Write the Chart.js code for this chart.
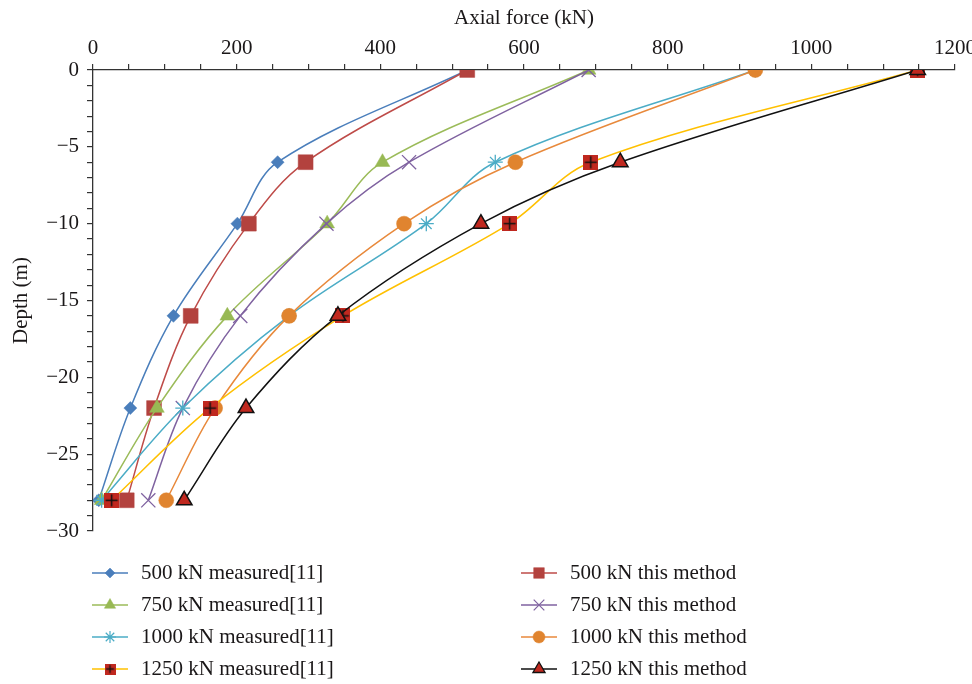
<!DOCTYPE html>
<html>
<head>
<meta charset="utf-8">
<script src="https://cdn.jsdelivr.net/npm/chart.js@4.4.1/dist/chart.umd.min.js"></script>
<style>
html,body{margin:0;padding:0;background:#fff;}
#wrap{width:972px;height:684px;position:relative;}
</style>
</head>
<body>
<div id="wrap"><canvas id="c" width="972" height="684"></canvas></div>
<script>
// ---- data ----
const depths = [0, -6, -10, -16, -22, -28];
const measured500  = [521, 257, 201, 112, 52, 8];
const method500    = [521, 296, 217, 136, 85, 47];
const measured750  = [690, 403, 326, 187, 89, 12];
const method750    = [690, 440, 325, 205, 125, 77];
const measured1000 = [922, 560, 464, 273, 125, 12];
const method1000   = [922, 588, 433, 273, 170, 102];
const measured1250 = [1148, 693, 580, 348, 163, 26];
const method1250   = [1148, 734, 540, 341, 213, 127];
const seriesLabels = [
  '500 kN measured[11]', '500 kN this method',
  '750 kN measured[11]', '750 kN this method',
  '1000 kN measured[11]', '1000 kN this method',
  '1250 kN measured[11]', '1250 kN this method'
];
const seriesValues = [measured500, method500, measured750, method750, measured1000, method1000, measured1250, method1250];

const FONT = "'Liberation Serif', 'DejaVu Serif', serif";
const TXT = '#1A1718';
const FS = 21;

function squarePlus(size){
  const c = document.createElement('canvas');
  c.width = size; c.height = size;
  const g = c.getContext('2d');
  g.fillStyle = '#C0281F';
  g.fillRect(0,0,size,size);
  g.strokeStyle = '#111';
  g.lineWidth = Math.max(1.3, size/10);
  g.beginPath();
  g.moveTo(size/2, 1.5); g.lineTo(size/2, size-1.5);
  g.moveTo(1.5, size/2); g.lineTo(size-1.5, size/2);
  g.stroke();
  return c;
}
const sqPlusBig = squarePlus(15);
const sqPlusSmall = squarePlus(11);

const styles = [
  {line:'#4A7EBB', fill:'#4A7EBB', border:'#4A7EBB', ps:'rectRot', r:6.5, lr:5},
  {line:'#BE4B48', fill:'#B3423E', border:'#B3423E', ps:'rect', r:10.5, lr:7.5},
  {line:'#9BBB59', fill:'#98B954', border:'#98B954', ps:'triangle', r:8.5, lr:6.5},
  {line:'#7F62A0', fill:'rgba(0,0,0,0)', border:'#7F62A0', ps:'crossRot', r:10, lr:7.5},
  {line:'#4BACC6', fill:'rgba(0,0,0,0)', border:'#4BACC6', ps:'star', r:7.5, lr:6},
  {line:'#E8893B', fill:'#E0842F', border:'#E0842F', ps:'circle', r:7.5, lr:6},
  {line:'#FFC000', fill:'#C0281F', border:'#C0281F', ps:sqPlusBig, r:8, lr:6, small:sqPlusSmall},
  {line:'#111111', fill:'#C0281F', border:'#111111', ps:'triangle', r:9, lr:7}
];

const datasets = seriesValues.map((vals, i) => ({
  label: seriesLabels[i],
  data: vals.map((v, k) => ({x: v, y: depths[k]})),
  showLine: true,
  tension: 0.35,
  borderColor: styles[i].line,
  borderWidth: 1.5,
  pointStyle: styles[i].ps,
  pointRadius: styles[i].r,
  pointHoverRadius: styles[i].r,
  pointBackgroundColor: styles[i].fill,
  pointBorderColor: styles[i].border,
  pointBorderWidth: (i===3||i===4) ? 1.3 : (i===7 ? 1.5 : 0.5),
  order: 8 - i
}));

const legendPlugin = {
  id: 'twoColLegend',
  afterDraw(chart){
    const ctx = chart.ctx;
    const cols = [{lx:92, tx:141}, {lx:521, tx:570}];
    const rows = [573, 605, 637, 669];
    ctx.save();
    chart.data.datasets.forEach((ds, i) => {
      const col = cols[i % 2];
      const y = rows[Math.floor(i/2)];
      const st = styles[i];
      ctx.strokeStyle = st.line;
      ctx.lineWidth = 1.5;
      ctx.beginPath();
      ctx.moveTo(col.lx, y); ctx.lineTo(col.lx + 36, y);
      ctx.stroke();
      const cx = col.lx + 18;
      if (typeof st.ps === 'string') {
        ctx.fillStyle = st.fill;
        ctx.strokeStyle = st.border;
        ctx.lineWidth = (i===3||i===4) ? 1.2 : (i===7 ? 1.3 : 0.5);
        Chart.helpers.drawPoint(ctx, {pointStyle: st.ps, radius: st.lr, rotation: 0, borderWidth: ctx.lineWidth}, cx, y);
      } else {
        const im = st.small;
        ctx.drawImage(im, cx - im.width/2, y - im.height/2);
      }
      ctx.fillStyle = TXT;
      ctx.font = FS + 'px ' + FONT;
      ctx.textAlign = 'left';
      ctx.textBaseline = 'middle';
      ctx.fillText(ds.label, col.tx, y);
    });
    ctx.restore();
  }
};

new Chart(document.getElementById('c'), {
  type: 'scatter',
  data: { datasets },
  options: {
    responsive: false,
    animation: false,
    devicePixelRatio: 1,
    layout: { padding: { left: 0, right: 17, top: 0, bottom: 153 } },
    plugins: { legend: { display: false }, tooltip: { enabled: false } },
    scales: {
      x: {
        type: 'linear',
        position: 'top',
        min: 0, max: 1200,
        afterFit(s){ s.height = 70; s.paddingRight = 0; s.paddingLeft = 0; },
        ticks: {
          stepSize: 50, autoSkip: false, maxRotation: 0,
          color: TXT, font: { family: FONT, size: FS }, padding: 3,
          callback: v => (v % 200 === 0) ? String(v) : ''
        },
        grid: { drawOnChartArea: false, drawTicks: true, tickLength: 6, color: '#333', lineWidth: 1.2 },
        border: { display: true, color: '#333', width: 1.3 },
        title: { display: true, text: 'Axial force (kN)', color: TXT, font: { family: FONT, size: FS }, padding: { top: 6, bottom: 0 } }
      },
      y: {
        type: 'linear',
        min: -30, max: 0,
        afterFit(s){ s.width = 93; s.paddingTop = 0; s.paddingBottom = 0; },
        ticks: {
          stepSize: 1, autoSkip: false,
          color: TXT, font: { family: FONT, size: FS }, padding: 8,
          callback: v => (v % 5 === 0) ? (v === 0 ? '0' : '\u2212' + Math.abs(v)) : ''
        },
        grid: { drawOnChartArea: false, drawTicks: true, tickLength: 6, color: '#333', lineWidth: 1.2 },
        border: { display: true, color: '#333', width: 1.3 },
        title: { display: true, text: 'Depth (m)', color: TXT, font: { family: FONT, size: FS }, padding: { top: 9, bottom: 0 } }
      }
    }
  },
  plugins: [legendPlugin]
});
</script>
</body>
</html>
